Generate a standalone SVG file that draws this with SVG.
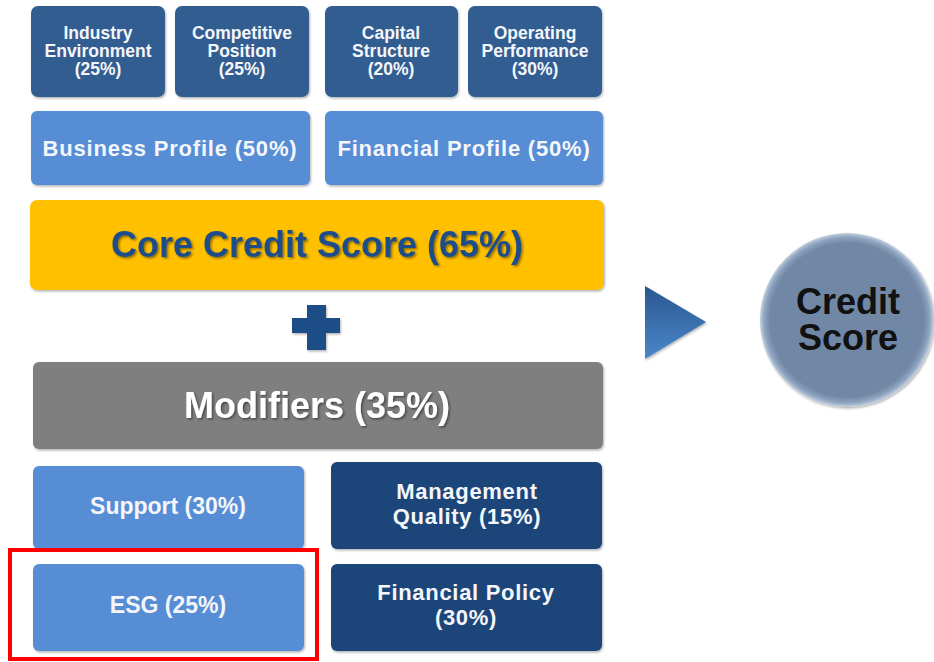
<svg xmlns="http://www.w3.org/2000/svg" width="934" height="662" viewBox="0 0 934 662">
<defs>
<style>
.t{font-family:"Liberation Sans",Arial,sans-serif;font-weight:bold;text-anchor:middle}
.w{fill:#f4f6fa}
.dk{fill:#325d91}
.lt{fill:#568dd5}
.nv{fill:#1f4479}
</style>
<filter id="bs" x="-5%" y="-5%" width="110%" height="115%">
<feDropShadow dx="1" dy="1.5" stdDeviation="1.2" flood-color="#000" flood-opacity="0.3"/>
</filter>
<filter id="ts" x="-5%" y="-20%" width="110%" height="150%">
<feDropShadow dx="1.5" dy="1.5" stdDeviation="1" flood-color="#000" flood-opacity="0.45"/>
</filter>
<linearGradient id="tri" x1="0" y1="0" x2="0" y2="1">
<stop offset="0" stop-color="#2a5790"/>
<stop offset="1" stop-color="#4b87c9"/>
</linearGradient>
<radialGradient id="circ" cx="0.5" cy="0.5" r="0.5">
<stop offset="0.88" stop-color="#6f87a5"/>
<stop offset="0.95" stop-color="#8da2bd"/>
<stop offset="1" stop-color="#c3d0e0"/>
</radialGradient>
</defs>
<rect width="934" height="662" fill="#ffffff"/>

<g id="industry-environment">
<rect class="dk" x="31" y="6" width="134" height="91" rx="7" filter="url(#bs)"/>
<text class="t w" font-size="17.5" x="98" y="39">Industry</text>
<text class="t w" font-size="17.5" x="98" y="57">Environment</text>
<text class="t w" font-size="17.5" x="98" y="75">(25%)</text>
</g>
<g id="competitive-position">
<rect class="dk" x="175" y="6" width="134" height="91" rx="7" filter="url(#bs)"/>
<text class="t w" font-size="17.5" x="242" y="39">Competitive</text>
<text class="t w" font-size="17.5" x="242" y="57">Position</text>
<text class="t w" font-size="17.5" x="242" y="75">(25%)</text>
</g>
<g id="capital-structure">
<rect class="dk" x="325" y="6" width="133" height="91" rx="7" filter="url(#bs)"/>
<text class="t w" font-size="17.5" x="391" y="39">Capital</text>
<text class="t w" font-size="17.5" x="391" y="57">Structure</text>
<text class="t w" font-size="17.5" x="391" y="75">(20%)</text>
</g>
<g id="operating-performance">
<rect class="dk" x="468" y="6" width="134" height="91" rx="7" filter="url(#bs)"/>
<text class="t w" font-size="17.5" x="535" y="39">Operating</text>
<text class="t w" font-size="17.5" x="535" y="57">Performance</text>
<text class="t w" font-size="17.5" x="535" y="75">(30%)</text>
</g>

<g id="business-profile">
<rect class="lt" x="31" y="111" width="279" height="74" rx="6" filter="url(#bs)"/>
<text class="t w" font-size="22" letter-spacing="0.8" x="170" y="156">Business Profile (50%)</text>
</g>
<g id="financial-profile">
<rect class="lt" x="325" y="111" width="278" height="74" rx="6" filter="url(#bs)"/>
<text class="t w" font-size="22" letter-spacing="0.8" x="464" y="156">Financial Profile (50%)</text>
</g>

<g id="core-credit-score">
<rect x="30" y="200" width="574" height="90" rx="7" fill="#ffc000" filter="url(#bs)"/>
<text class="t" font-size="36" fill="#1f4e8a" filter="url(#ts)" x="317" y="257">Core Credit Score (65%)</text>
</g>

<g id="plus">
<path d="M307,305 H326 V318 H340 V333 H326 V350 H307 V333 H292 V318 H307 Z" fill="#1f4e87" filter="url(#bs)"/>
</g>

<g id="modifiers">
<rect x="33" y="362" width="570" height="87" rx="6" fill="#7f7f7f" filter="url(#bs)"/>
<text class="t" font-size="36" fill="#ffffff" filter="url(#ts)" x="317" y="418">Modifiers (35%)</text>
</g>

<g id="support">
<rect class="lt" x="33" y="466" width="271" height="83" rx="6" filter="url(#bs)"/>
<text class="t w" font-size="23" x="168" y="514">Support (30%)</text>
</g>
<g id="management-quality">
<rect class="nv" x="331" y="462" width="271" height="87" rx="6" filter="url(#bs)"/>
<text class="t w" font-size="22" letter-spacing="0.7" x="467" y="499">Management</text>
<text class="t w" font-size="22" letter-spacing="0.7" x="467" y="524">Quality (15%)</text>
</g>
<g id="esg">
<rect class="lt" x="33" y="564" width="271" height="87" rx="6" filter="url(#bs)"/>
<text class="t w" font-size="23" x="168" y="613">ESG (25%)</text>
</g>
<g id="financial-policy">
<rect class="nv" x="331" y="564" width="271" height="87" rx="6" filter="url(#bs)"/>
<text class="t w" font-size="22" letter-spacing="0.7" x="466" y="600">Financial Policy</text>
<text class="t w" font-size="22" letter-spacing="0.7" x="466" y="625">(30%)</text>
</g>

<g id="esg-highlight">
<rect x="10" y="550" width="307" height="109" fill="none" stroke="#ff0000" stroke-width="4"/>
</g>

<g id="connectors">
<path d="M645,286 L706,322 L645,359 Z" fill="url(#tri)" filter="url(#bs)"/>
</g>

<g id="credit-score">
<circle cx="847" cy="320" r="87" fill="url(#circ)" filter="url(#bs)"/>
<text class="t" font-size="36" fill="#111111" x="848" y="314">Credit</text>
<text class="t" font-size="36" fill="#111111" x="848" y="350">Score</text>
</g>
</svg>
